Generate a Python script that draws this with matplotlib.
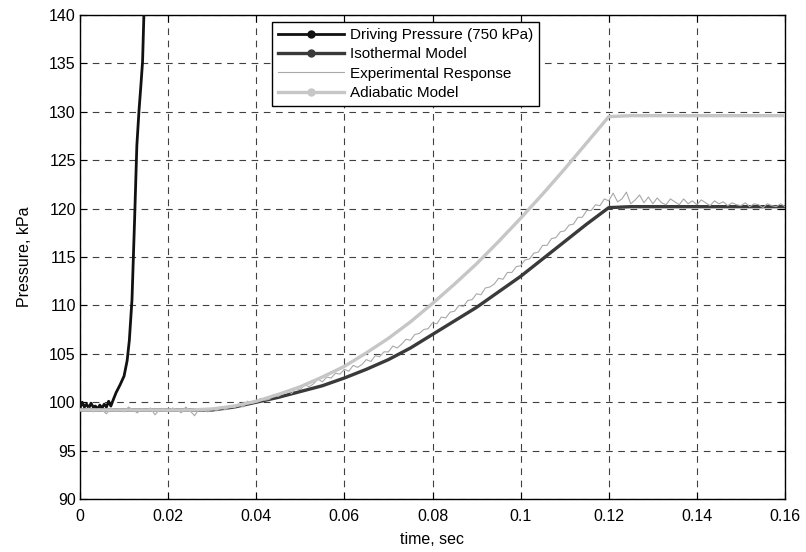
import numpy as np
import matplotlib
matplotlib.use("Agg")
import matplotlib.pyplot as plt
from matplotlib.lines import Line2D

plt.rcParams['font.family'] = ['Liberation Sans', 'DejaVu Sans']

# ---- data ----
model_t = [0.000, 0.005, 0.010, 0.015, 0.020, 0.025, 0.030, 0.035, 0.040, 0.045,
           0.050, 0.055, 0.060, 0.065, 0.070, 0.075, 0.080, 0.085, 0.090, 0.095,
           0.100, 0.105, 0.110, 0.115, 0.120, 0.125, 0.130, 0.135, 0.140, 0.145,
           0.150, 0.155, 0.160]
isothermal_p = [99.2, 99.2, 99.2, 99.2, 99.2, 99.2, 99.2, 99.5, 100.0, 100.5,
                101.1, 101.7, 102.5, 103.4, 104.4, 105.6, 107.0, 108.4, 109.8, 111.4,
                113.0, 114.8, 116.6, 118.4, 120.1, 120.2, 120.2, 120.2, 120.2, 120.2,
                120.2, 120.2, 120.2]
adiabatic_p = [99.2, 99.2, 99.2, 99.2, 99.2, 99.2, 99.3, 99.6, 100.1, 100.8,
               101.6, 102.6, 103.7, 105.1, 106.6, 108.3, 110.2, 112.2, 114.3, 116.6,
               119.0, 121.5, 124.1, 126.8, 129.5, 129.6, 129.6, 129.6, 129.6, 129.6,
               129.6, 129.6, 129.6]

drive_t = [0.000, 0.0005, 0.001, 0.0015, 0.002, 0.0025, 0.003, 0.0035, 0.004, 0.0045,
           0.005, 0.0055, 0.006, 0.0065, 0.007, 0.0075, 0.0082, 0.0091, 0.0100, 0.0107,
           0.0112, 0.0118, 0.0124, 0.0129, 0.0134, 0.0138, 0.0142, 0.0145, 0.0150]
drive_p = [99.4, 100.0, 99.5, 99.8, 99.4, 99.9, 99.5, 99.6, 99.3, 99.7,
           99.4, 99.8, 99.5, 100.1, 99.6, 100.2, 101.0, 101.8, 102.7, 104.3,
           106.4, 110.6, 119.0, 126.5, 130.2, 132.6, 135.2, 140.0, 148.0]

exp_t = [i * 0.001 for i in range(161)]
exp_p = [99.3, 99.1, 99.4, 99.0, 99.3, 99.2, 98.8, 99.4, 99.1, 99.3,
         99.0, 99.5, 99.2, 98.9, 99.3, 99.1, 99.4, 98.7, 99.2, 99.3,
         99.0, 99.4, 99.2, 98.9, 99.5, 99.1, 98.6, 99.3, 99.2, 99.0,
         99.4, 99.1, 99.5, 99.2, 99.6, 99.4, 99.8, 99.5, 100.1, 99.9,
         100.0, 100.4, 100.2, 100.3, 100.8, 100.6, 100.9, 101.2, 100.9, 101.4,
         101.3, 101.8, 101.6, 101.9, 102.4, 102.1, 102.6, 102.5, 103.0, 102.9,
         103.4, 103.2, 103.8, 103.6, 103.9, 104.4, 104.2, 104.8, 104.7, 105.2,
         105.2, 105.8, 105.6, 106.0, 106.5, 106.4, 107.0, 107.1, 107.5, 107.6,
         108.2, 108.1, 108.8, 108.7, 109.3, 109.4, 110.0, 109.9, 110.5, 110.6,
         111.2, 111.1, 111.8, 111.9, 112.2, 112.8, 112.7, 113.4, 113.4, 114.0,
         114.1, 114.7, 114.8, 115.4, 115.5, 116.2, 116.2, 116.9, 117.0, 117.6,
         117.7, 118.3, 118.4, 119.1, 119.1, 119.8, 119.8, 120.4, 120.3, 121.0,
         120.8, 121.6, 120.7, 121.0, 121.7, 120.5, 120.9, 121.4, 120.6, 121.2,
         120.5, 121.1, 120.6, 120.4, 121.0, 120.7, 120.4, 121.0, 120.5, 120.8,
         120.4, 120.9, 120.6, 120.3, 120.8, 120.5, 120.7, 120.3, 120.6, 120.4,
         120.3, 120.6, 120.2, 120.5, 120.4, 120.1, 120.5, 120.3, 120.2, 120.5,
         120.2]

x_ticks = [0, 0.02, 0.04, 0.06, 0.08, 0.10, 0.12, 0.14, 0.16]
x_tick_labels = ['0', '0.02', '0.04', '0.06', '0.08', '0.1', '0.12', '0.14', '0.16']
y_ticks = [90, 95, 100, 105, 110, 115, 120, 125, 130, 135, 140]

labels = ['Driving Pressure (750 kPa)', 'Isothermal Model',
          'Experimental Response', 'Adiabatic Model']
c_drive, c_iso, c_exp, c_adi = '#111111', '#3a3a3a', '#a8a8a8', '#c6c6c6'

# ---- figure ----
fig = plt.figure(figsize=(8.06, 5.52), dpi=100)
ax = fig.add_axes([80 / 806, 1 - 499 / 552, 705 / 806, 484 / 552])

ax.plot(drive_t, drive_p, color=c_drive, lw=2.0, zorder=3)
ax.plot(model_t, isothermal_p, color=c_iso, lw=2.4, zorder=4)
ax.plot(exp_t, exp_p, color=c_exp, lw=0.8, zorder=5)
ax.plot(model_t, adiabatic_p, color=c_adi, lw=2.4, zorder=6)

ax.set_xlim(0, 0.16)
ax.set_ylim(90, 140)
ax.set_xticks(x_ticks)
ax.set_xticklabels(x_tick_labels)
ax.set_yticks(y_ticks)
ax.tick_params(direction='in', length=5, width=0.8, top=True, right=True,
               labelsize=11.5, colors='black')
ax.tick_params(axis='x', pad=7)
ax.tick_params(axis='y', pad=3)
for s in ax.spines.values():
    s.set_linewidth(1.0)
    s.set_color('black')
ax.grid(True, color='#404040', linestyle=(0, (6, 5)), linewidth=0.8)
ax.set_axisbelow(True)

ax.set_xlabel('time, sec', fontsize=11.5, labelpad=6)
ax.set_ylabel('Pressure, kPa', fontsize=11.5, labelpad=12)

handles = [
    Line2D([], [], color=c_drive, lw=2.0, marker='o', markersize=5),
    Line2D([], [], color=c_iso, lw=2.4, marker='o', markersize=5),
    Line2D([], [], color=c_exp, lw=0.8),
    Line2D([], [], color=c_adi, lw=2.4, marker='o', markersize=5),
]
leg = ax.legend(handles, labels, loc='upper left', bbox_to_anchor=(0.272, 0.986),
                fontsize=11, handlelength=4.3, handletextpad=0.4,
                labelspacing=0.35, borderpad=0.4, fancybox=False,
                framealpha=1, edgecolor='black', borderaxespad=0)
leg.get_frame().set_linewidth(1.0)
leg.set_zorder(10)

fig.savefig('out.png', dpi=100)
